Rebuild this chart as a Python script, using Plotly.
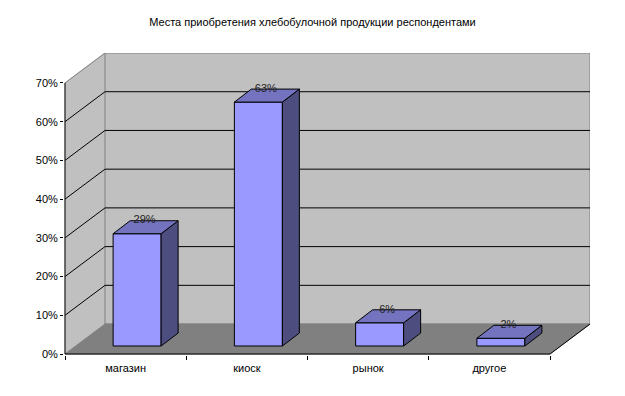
import plotly.graph_objects as go

categories = ["магазин", "киоск", "рынок", "другое"]
values = [29, 63, 6, 2]
labels = ["29%", "63%", "6%", "2%"]
y_ticks = [0, 10, 20, 30, 40, 50, 60, 70]
title = "Места приобретения хлебобулочной продукции респондентами"

PAGE = 8  # default page margin of the HTML body
PAD = 1   # one spare pixel left of and below the walls, so the axis lines are not clipped
W, H = 625 - PAGE, 396 - PAGE
L, R, T, B = 65 - PAD - PAGE, 590 - PAGE, 53 - PAGE, 354.5 + PAD - PAGE
px_x = 121.25            # pixels per category slot
px_y = (354.5 - 83) / 70  # pixels per percent
DX = 40 / px_x           # wall depth in x units
DY = 30 / px_y           # wall depth in y units
x0 = -0.5
x1 = x0 + len(categories)
ymax = y_ticks[-1]
bw = 48 / px_x           # bar width
fx, fy = 11.5 / px_x, 8 / px_y     # bar front offset from the front plane
bx, by = 17 / px_x, 13 / px_y      # bar depth
lx = 7.5 / px_x                    # data label offset from the bar centre

WALL, FLOOR = "#C0C0C0", "#808080"
FRONT, TOP, SIDE = "#9999FF", "#7373BF", "#4D4D80"


def poly(xs, ys, fill, line=None, width=1):
    path = "M " + " L ".join(f"{a},{b}" for a, b in zip(xs, ys)) + " Z"
    return dict(type="path", path=path, xref="x", yref="y", layer="below",
                fillcolor=fill, line=dict(color=line or fill, width=width))


def seg(xa, ya, xb, yb, color="black"):
    return dict(type="line", x0=xa, y0=ya, x1=xb, y1=yb, xref="x", yref="y",
                layer="below", line=dict(color=color, width=1))


shapes = [
    poly([x0, x0, x0 + DX, x0 + DX], [0, ymax, ymax + DY, DY], WALL),
    poly([x0 + DX, x1 + DX, x1 + DX, x0 + DX], [DY, DY, ymax + DY, ymax + DY], WALL, FLOOR),
    poly([x0, x1, x1 + DX, x0 + DX], [0, 0, DY, DY], FLOOR),
    seg(x0, ymax, x0 + DX, ymax + DY, FLOOR),
    seg(x1, 0, x1 + DX, DY),
    seg(x0, 0, x1, 0),
    seg(x0, 0, x0, ymax),
]
for t in y_ticks[1:-1]:
    shapes.append(seg(x0, t, x0 + DX, t + DY))
    shapes.append(seg(x0 + DX, t + DY, x1 + DX, t + DY))

fig = go.Figure()
xc = [i + fx for i in range(len(categories))]
fig.add_trace(go.Bar(x=xc, y=values, base=[fy] * len(values), width=bw,
                     marker=dict(color=FRONT, line=dict(color="black", width=1)),
                     showlegend=False, hoverinfo="skip"))
for c, v in zip(xc, values):
    l, r, t = c - bw / 2, c + bw / 2, fy + v
    fig.add_trace(go.Scatter(x=[r, r + bx, r + bx, r, r], y=[fy, fy + by, t + by, t, fy],
                             mode="lines", fill="toself", fillcolor=SIDE,
                             line=dict(color="black", width=1), showlegend=False, hoverinfo="skip"))
    fig.add_trace(go.Scatter(x=[l, r, r + bx, l + bx, l], y=[t, t, t + by, t + by, t],
                             mode="lines", fill="toself", fillcolor=TOP,
                             line=dict(color="black", width=1), showlegend=False, hoverinfo="skip"))
fig.add_trace(go.Scatter(x=[c + lx for c in xc], y=[fy + v + by for v in values],
                         mode="text", text=labels, textposition="middle center",
                         textfont=dict(family="Liberation Sans", size=11, color="#222222"),
                         showlegend=False, hoverinfo="skip", cliponaxis=False))

fig.update_layout(
    width=W, height=H, autosize=False, showlegend=False,
    paper_bgcolor="white", plot_bgcolor="white",
    margin=dict(l=L, r=W - R, t=T, b=H - B, pad=0),
    font=dict(family="Liberation Sans", size=11, color="black"),
    title=dict(text=title, x=(312.5 - PAGE) / W, xanchor="center", y=1 - (22 - PAGE) / H, yanchor="middle",
               font=dict(family="Liberation Sans", size=11, color="black")),
    shapes=shapes,
    xaxis=dict(range=[x0 - PAD / px_x, x1 + DX], tickvals=list(range(len(categories))), ticktext=categories,
               ticks="", showgrid=False, zeroline=False, showline=False, tickfont=dict(size=11),
               ticklabelstandoff=5,
               minor=dict(tickvals=[x0 + i for i in range(len(categories) + 1)], ticks="outside",
                          ticklen=4, tickcolor="black", tickwidth=1, showgrid=False)),
    yaxis=dict(range=[-PAD / px_y, ymax + DY], tickvals=y_ticks, ticktext=[f"{t}%" for t in y_ticks],
               ticks="outside", ticklen=3, tickcolor="black", tickwidth=1,
               showgrid=False, zeroline=False, showline=False, tickfont=dict(size=11)),
)
fig.write_html("out.html")
